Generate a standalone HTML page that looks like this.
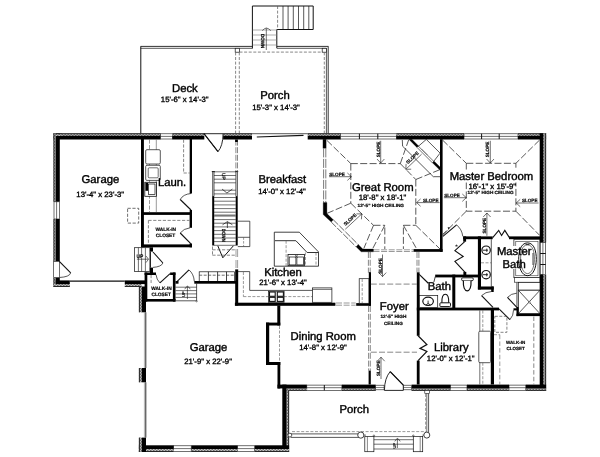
<!DOCTYPE html>
<html><head><meta charset="utf-8"><title>Floor Plan</title>
<style>
html,body{margin:0;padding:0;background:#fff;}
body{width:600px;height:457px;overflow:hidden;font-family:"Liberation Sans",sans-serif;}
svg{display:block;will-change:transform;opacity:0.999;text-rendering:geometricPrecision;}
svg text{font-family:"Liberation Sans",sans-serif;fill:#000;}
</style></head><body>
<svg width="600" height="457" viewBox="0 0 600 457">
<defs>
<pattern id="hz" width="1.5" height="1.5" patternUnits="userSpaceOnUse">
<rect width="1.5" height="1.5" fill="#f4f4f4"/><rect width="0.75" height="0.75" fill="#3a3a3a"/><rect x="0.75" y="0.75" width="0.75" height="0.75" fill="#3a3a3a"/>
</pattern>
</defs>
<rect width="600" height="457" fill="#fff"/>
<line x1="140.6" y1="46.4" x2="252.6" y2="46.4" stroke="#111" stroke-width="0.85"/>
<line x1="140.6" y1="48.3" x2="252.6" y2="48.3" stroke="#111" stroke-width="0.7"/>
<line x1="140.8" y1="46.4" x2="140.8" y2="134.0" stroke="#111" stroke-width="1.0"/>
<line x1="277.0" y1="46.4" x2="328.4" y2="46.4" stroke="#111" stroke-width="0.85"/>
<line x1="277.0" y1="48.3" x2="326.4" y2="48.3" stroke="#111" stroke-width="0.7"/>
<line x1="328.2" y1="46.4" x2="328.2" y2="134.0" stroke="#111" stroke-width="0.85"/>
<line x1="326.4" y1="48.3" x2="326.4" y2="134.0" stroke="#111" stroke-width="0.7"/>
<rect x="235.2" y="48.3" width="4.3" height="3.9" fill="#fff" stroke="#111" stroke-width="0.7"/>
<rect x="322.2" y="48.3" width="4.2" height="3.9" fill="#fff" stroke="#111" stroke-width="0.7"/>
<line x1="235.6" y1="52.4" x2="235.6" y2="134.0" stroke="#555" stroke-width="0.7" stroke-dasharray="3 1.6"/>
<line x1="239.3" y1="52.4" x2="239.3" y2="134.0" stroke="#555" stroke-width="0.7" stroke-dasharray="3 1.6"/>
<line x1="239.5" y1="52.1" x2="322.0" y2="52.1" stroke="#555" stroke-width="0.7" stroke-dasharray="3 1.6"/>
<line x1="324.3" y1="52.4" x2="324.3" y2="134.0" stroke="#555" stroke-width="0.7" stroke-dasharray="3 1.6"/>
<path d="M252.4 48.3 L252.4 6.0 L313.2 6.0 L313.2 29.5 L276.8 29.5 L276.8 48.3" fill="none" stroke="#111" stroke-width="1.0" />
<line x1="277.6" y1="6.0" x2="277.6" y2="29.5" stroke="#555" stroke-width="0.7" stroke-dasharray="3 1.6"/>
<line x1="283.0" y1="6.0" x2="283.0" y2="29.5" stroke="#111" stroke-width="0.7"/>
<line x1="288.1" y1="6.0" x2="288.1" y2="29.5" stroke="#111" stroke-width="0.7"/>
<line x1="293.3" y1="6.0" x2="293.3" y2="29.5" stroke="#111" stroke-width="0.7"/>
<line x1="298.5" y1="6.0" x2="298.5" y2="29.5" stroke="#111" stroke-width="0.7"/>
<line x1="303.7" y1="6.0" x2="303.7" y2="29.5" stroke="#111" stroke-width="0.7"/>
<line x1="308.8" y1="6.0" x2="308.8" y2="29.5" stroke="#111" stroke-width="0.7"/>
<line x1="252.6" y1="30.0" x2="277.0" y2="30.0" stroke="#777" stroke-width="0.6"/>
<line x1="252.6" y1="35.0" x2="277.0" y2="35.0" stroke="#777" stroke-width="0.6"/>
<line x1="252.6" y1="40.0" x2="277.0" y2="40.0" stroke="#777" stroke-width="0.6"/>
<line x1="252.6" y1="45.0" x2="277.0" y2="45.0" stroke="#777" stroke-width="0.6"/>
<text x="261.2" y="41.2" font-size="4.8" font-weight="bold" text-anchor="middle" stroke="#111" stroke-width="0.2" textLength="14.3" lengthAdjust="spacingAndGlyphs" transform="rotate(90 261.2 41.2)">DOWN</text>
<path d="M266.3 50 L266.3 28.2 M262.3 30.6 Q264.6 28.2 266.3 28 Q268.4 28.2 270.8 30.6" fill="none" stroke="#111" stroke-width="0.6" />
<text x="184.9" y="91.6" font-size="11.3" text-anchor="middle" stroke="#000" stroke-width="0.4">Deck</text>
<text x="184.7" y="101.9" font-size="7.75" text-anchor="middle" stroke="#000" stroke-width="0.35">15'-6" x 14'-3"</text>
<text x="275.0" y="99.4" font-size="11.3" text-anchor="middle" stroke="#000" stroke-width="0.4">Porch</text>
<text x="276.0" y="109.5" font-size="7.75" text-anchor="middle" stroke="#000" stroke-width="0.35">15'-3" x 14'-3"</text>
<rect x="53.5" y="133.3" width="107.2" height="2.7" fill="url(#hz)"/>
<rect x="53.5" y="133.3" width="107.2" height="0.9" fill="#1a1a1a"/>
<rect x="53.5" y="135.8" width="107.2" height="3.7" fill="#000"/>
<rect x="160.7" y="133.8" width="11.6" height="5.2" fill="#fff" stroke="#111" stroke-width="0.6"/>
<line x1="160.7" y1="136.4" x2="172.3" y2="136.4" stroke="#111" stroke-width="0.6"/>
<rect x="172.3" y="133.3" width="32.0" height="2.7" fill="url(#hz)"/>
<rect x="172.3" y="133.3" width="32.0" height="0.9" fill="#1a1a1a"/>
<rect x="172.3" y="135.8" width="32.0" height="3.7" fill="#000"/>
<rect x="223.1" y="133.3" width="28.9" height="2.7" fill="url(#hz)"/>
<rect x="223.1" y="133.3" width="28.9" height="0.9" fill="#1a1a1a"/>
<rect x="223.1" y="135.8" width="28.9" height="3.7" fill="#000"/>
<rect x="307.7" y="133.3" width="32.9" height="2.7" fill="url(#hz)"/>
<rect x="307.7" y="133.3" width="32.9" height="0.9" fill="#1a1a1a"/>
<rect x="307.7" y="135.8" width="32.9" height="3.7" fill="#000"/>
<rect x="340.6" y="133.8" width="55.7" height="5.2" fill="#fff" stroke="#111" stroke-width="0.6"/>
<line x1="340.6" y1="136.4" x2="396.3" y2="136.4" stroke="#111" stroke-width="0.6"/>
<line x1="359.4" y1="133.7" x2="359.4" y2="139.1" stroke="#111" stroke-width="1.0"/>
<line x1="377.8" y1="133.7" x2="377.8" y2="139.1" stroke="#111" stroke-width="1.0"/>
<rect x="396.3" y="133.3" width="67.7" height="2.7" fill="url(#hz)"/>
<rect x="396.3" y="133.3" width="67.7" height="0.9" fill="#1a1a1a"/>
<rect x="396.3" y="135.8" width="67.7" height="3.7" fill="#000"/>
<rect x="464.0" y="133.8" width="54.0" height="5.2" fill="#fff" stroke="#111" stroke-width="0.6"/>
<line x1="464.0" y1="136.4" x2="518.0" y2="136.4" stroke="#111" stroke-width="0.6"/>
<line x1="481.6" y1="133.7" x2="481.6" y2="139.1" stroke="#111" stroke-width="1.0"/>
<line x1="499.2" y1="133.7" x2="499.2" y2="139.1" stroke="#111" stroke-width="1.0"/>
<rect x="518.0" y="133.3" width="28.1" height="2.7" fill="url(#hz)"/>
<rect x="518.0" y="133.3" width="28.1" height="0.9" fill="#1a1a1a"/>
<rect x="518.0" y="135.8" width="28.1" height="3.7" fill="#000"/>
<line x1="252.0" y1="133.7" x2="307.7" y2="133.7" stroke="#111" stroke-width="0.7"/>
<line x1="256.8" y1="137.0" x2="303.5" y2="135.4" stroke="#111" stroke-width="1.2"/>
<rect x="543.0" y="133.3" width="3.1" height="109.3" fill="url(#hz)"/>
<rect x="545.2" y="133.3" width="0.9" height="109.3" fill="#1a1a1a"/>
<rect x="539.7" y="133.3" width="3.6" height="109.3" fill="#000"/>
<rect x="540.2" y="242.5" width="5.4" height="32.0" fill="#fff" stroke="#111" stroke-width="0.6"/>
<line x1="542.9" y1="242.5" x2="542.9" y2="274.5" stroke="#111" stroke-width="0.6"/>
<line x1="540.1" y1="253.5" x2="545.7" y2="253.5" stroke="#111" stroke-width="1.0"/>
<line x1="540.1" y1="264.5" x2="545.7" y2="264.5" stroke="#111" stroke-width="1.0"/>
<rect x="543.0" y="274.5" width="3.1" height="116.3" fill="url(#hz)"/>
<rect x="545.2" y="274.5" width="0.9" height="116.3" fill="#1a1a1a"/>
<rect x="539.7" y="274.5" width="3.6" height="116.3" fill="#000"/>
<rect x="525.8" y="388.0" width="20.3" height="2.8" fill="url(#hz)"/>
<rect x="525.8" y="389.9" width="20.3" height="0.9" fill="#1a1a1a"/>
<rect x="525.8" y="384.6" width="20.3" height="3.8" fill="#000"/>
<rect x="509.0" y="385.1" width="16.8" height="5.2" fill="#fff" stroke="#111" stroke-width="0.6"/>
<line x1="509.0" y1="387.7" x2="525.8" y2="387.7" stroke="#111" stroke-width="0.6"/>
<rect x="467.0" y="388.0" width="42.0" height="2.8" fill="url(#hz)"/>
<rect x="467.0" y="389.9" width="42.0" height="0.9" fill="#1a1a1a"/>
<rect x="467.0" y="384.6" width="42.0" height="3.8" fill="#000"/>
<rect x="450.4" y="385.1" width="16.6" height="5.2" fill="#fff" stroke="#111" stroke-width="0.6"/>
<line x1="450.4" y1="387.7" x2="467.0" y2="387.7" stroke="#111" stroke-width="0.6"/>
<rect x="411.6" y="388.0" width="38.8" height="2.8" fill="url(#hz)"/>
<rect x="411.6" y="389.9" width="38.8" height="0.9" fill="#1a1a1a"/>
<rect x="411.6" y="384.6" width="38.8" height="3.8" fill="#000"/>
<rect x="341.9" y="388.0" width="33.8" height="2.8" fill="url(#hz)"/>
<rect x="341.9" y="389.9" width="33.8" height="0.9" fill="#1a1a1a"/>
<rect x="341.9" y="384.6" width="33.8" height="3.8" fill="#000"/>
<rect x="306.8" y="385.1" width="35.1" height="5.2" fill="#fff" stroke="#111" stroke-width="0.6"/>
<line x1="306.8" y1="387.7" x2="341.9" y2="387.7" stroke="#111" stroke-width="0.6"/>
<line x1="324.3" y1="385.0" x2="324.3" y2="390.4" stroke="#111" stroke-width="1.0"/>
<rect x="286.4" y="388.0" width="20.4" height="2.8" fill="url(#hz)"/>
<rect x="286.4" y="389.9" width="20.4" height="0.9" fill="#1a1a1a"/>
<rect x="277.5" y="384.6" width="29.3" height="3.8" fill="#000"/>
<rect x="375.7" y="385.2" width="8.4" height="4.6" fill="#fff" stroke="#111" stroke-width="0.6"/>
<line x1="375.7" y1="387.5" x2="384.1" y2="387.5" stroke="#111" stroke-width="0.5"/>
<rect x="403.2" y="385.2" width="8.4" height="4.6" fill="#fff" stroke="#111" stroke-width="0.6"/>
<line x1="403.2" y1="387.5" x2="411.6" y2="387.5" stroke="#111" stroke-width="0.5"/>
<path d="M384.4 390.4 Q384.6 378 390.2 371.6 L403.3 385.1 L403.3 390.4 Z" fill="#fff" stroke="#111" stroke-width="0.9" />
<line x1="390.2" y1="371.6" x2="403.3" y2="385.1" stroke="#111" stroke-width="1.3"/>
<rect x="286.2" y="390.4" width="2.9" height="61.6" fill="url(#hz)"/>
<rect x="288.2" y="390.4" width="0.9" height="61.6" fill="#1a1a1a"/>
<rect x="282.3" y="384.6" width="4.2" height="64.4" fill="#000"/>
<rect x="254.7" y="448.8" width="34.4" height="3.2" fill="url(#hz)"/>
<rect x="254.7" y="451.1" width="34.4" height="0.9" fill="#1a1a1a"/>
<rect x="254.7" y="445.3" width="34.4" height="3.7" fill="#000"/>
<rect x="237.5" y="445.8" width="17.2" height="5.7" fill="#fff" stroke="#111" stroke-width="0.6"/>
<line x1="237.5" y1="448.6" x2="254.7" y2="448.6" stroke="#111" stroke-width="0.6"/>
<rect x="191.2" y="448.8" width="46.3" height="3.2" fill="url(#hz)"/>
<rect x="191.2" y="451.1" width="46.3" height="0.9" fill="#1a1a1a"/>
<rect x="191.2" y="445.3" width="46.3" height="3.7" fill="#000"/>
<rect x="173.6" y="445.8" width="17.6" height="5.7" fill="#fff" stroke="#111" stroke-width="0.6"/>
<line x1="173.6" y1="448.6" x2="191.2" y2="448.6" stroke="#111" stroke-width="0.6"/>
<rect x="138.9" y="448.8" width="34.7" height="3.2" fill="url(#hz)"/>
<rect x="138.9" y="451.1" width="34.7" height="0.9" fill="#1a1a1a"/>
<rect x="138.9" y="445.3" width="34.7" height="3.7" fill="#000"/>
<rect x="138.9" y="286.5" width="3.1" height="25.8" fill="url(#hz)"/>
<rect x="138.9" y="286.5" width="0.9" height="25.8" fill="#1a1a1a"/>
<rect x="141.8" y="286.5" width="4.2" height="25.8" fill="#000"/>
<rect x="138.9" y="368.0" width="3.1" height="14.3" fill="url(#hz)"/>
<rect x="138.9" y="368.0" width="0.9" height="14.3" fill="#1a1a1a"/>
<rect x="141.8" y="368.0" width="4.2" height="14.3" fill="#000"/>
<rect x="138.9" y="437.6" width="3.1" height="14.4" fill="url(#hz)"/>
<rect x="138.9" y="437.6" width="0.9" height="14.4" fill="#1a1a1a"/>
<rect x="141.8" y="437.6" width="4.2" height="14.4" fill="#000"/>
<line x1="144.4" y1="312.3" x2="144.4" y2="368.0" stroke="#666" stroke-width="0.5"/>
<line x1="145.8" y1="312.3" x2="145.8" y2="368.0" stroke="#111" stroke-width="0.9"/>
<line x1="144.4" y1="382.3" x2="144.4" y2="437.6" stroke="#666" stroke-width="0.5"/>
<line x1="145.8" y1="382.3" x2="145.8" y2="437.6" stroke="#111" stroke-width="0.9"/>
<rect x="53.5" y="133.3" width="2.6" height="68.5" fill="url(#hz)"/>
<rect x="53.5" y="133.3" width="0.9" height="68.5" fill="#1a1a1a"/>
<rect x="55.8" y="133.3" width="4.0" height="68.5" fill="#000"/>
<rect x="54.0" y="201.8" width="5.3" height="17.2" fill="#fff" stroke="#111" stroke-width="0.6"/>
<line x1="56.6" y1="201.8" x2="56.6" y2="219.0" stroke="#111" stroke-width="0.6"/>
<rect x="53.5" y="219.0" width="2.6" height="42.4" fill="url(#hz)"/>
<rect x="53.5" y="219.0" width="0.9" height="42.4" fill="#1a1a1a"/>
<rect x="55.8" y="219.0" width="4.0" height="42.4" fill="#000"/>
<rect x="53.5" y="277.5" width="2.6" height="9.4" fill="url(#hz)"/>
<rect x="53.5" y="277.5" width="0.9" height="9.4" fill="#1a1a1a"/>
<rect x="55.8" y="277.5" width="4.0" height="9.4" fill="#000"/>
<rect x="55.8" y="133.3" width="6.2" height="2.7" fill="url(#hz)"/>
<rect x="55.8" y="133.3" width="6.2" height="0.9" fill="#1a1a1a"/>
<rect x="53.5" y="283.8" width="16.3" height="3.1" fill="url(#hz)"/>
<rect x="53.5" y="286.0" width="16.3" height="0.9" fill="#1a1a1a"/>
<rect x="55.8" y="280.4" width="14.0" height="3.7" fill="#000"/>
<rect x="124.8" y="283.8" width="16.7" height="3.1" fill="url(#hz)"/>
<rect x="124.8" y="286.0" width="16.7" height="0.9" fill="#1a1a1a"/>
<rect x="124.8" y="280.4" width="20.2" height="3.7" fill="#000"/>
<line x1="69.8" y1="281.1" x2="124.8" y2="281.1" stroke="#111" stroke-width="1.2"/>
<rect x="53.7" y="261.4" width="5.9" height="16.1" fill="#fff" stroke="#111" stroke-width="0.6"/>
<path d="M59.3 261.4 L70.7 272.9" fill="none" stroke="#111" stroke-width="1.1" />
<path d="M70.7 272.9 Q69.5 277 59.3 277.5" fill="none" stroke="#111" stroke-width="0.7" />
<rect x="141.0" y="139.0" width="2.9" height="108.3" fill="#000"/>
<rect x="141.0" y="212.2" width="51.0" height="2.7" fill="#000"/>
<rect x="189.7" y="139.0" width="2.3" height="54.5" fill="#000"/>
<rect x="189.7" y="210.0" width="2.3" height="4.9" fill="#000"/>
<path d="M191 210 L180.2 199.5" fill="none" stroke="#111" stroke-width="1.1" />
<path d="M180.2 199.5 Q183 194.3 191 193.5" fill="none" stroke="#111" stroke-width="0.7" />
<rect x="141.0" y="244.4" width="51.0" height="2.9" fill="#000"/>
<rect x="189.6" y="214.9" width="2.4" height="12.9" fill="#000"/>
<rect x="189.6" y="243.5" width="2.4" height="3.8" fill="#000"/>
<path d="M191 243.8 L180.2 233" fill="none" stroke="#111" stroke-width="1.1" />
<path d="M180.2 233 Q183.5 228.6 190 227.8" fill="none" stroke="#111" stroke-width="0.7" />
<line x1="148.4" y1="220.4" x2="189.5" y2="220.4" stroke="#555" stroke-width="0.7" stroke-dasharray="3.2 1.6"/>
<line x1="148.4" y1="220.4" x2="148.4" y2="244.4" stroke="#555" stroke-width="0.7" stroke-dasharray="3.2 1.6"/>
<text x="165.8" y="231.3" font-size="4.8" font-weight="bold" text-anchor="middle" stroke="#111" stroke-width="0.2">WALK-IN</text>
<text x="165.5" y="237.2" font-size="4.8" font-weight="bold" text-anchor="middle" stroke="#111" stroke-width="0.2">CLOSET</text>
<rect x="134.6" y="247.7" width="15.3" height="23.7" fill="#fff" stroke="#111" stroke-width="0.7"/>
<line x1="138.4" y1="247.7" x2="138.4" y2="271.4" stroke="#111" stroke-width="0.6"/>
<line x1="141.6" y1="247.7" x2="141.6" y2="271.4" stroke="#111" stroke-width="0.6"/>
<line x1="145.4" y1="247.7" x2="145.4" y2="271.4" stroke="#111" stroke-width="0.6"/>
<text x="136.4" y="258.0" font-size="5.0" text-anchor="start" stroke="#000" stroke-width="0.2">UP</text>
<path d="M136.9 259.2 L148.3 259.2 M146 256 L148.5 259.2 L146 262.6" fill="none" stroke="#111" stroke-width="0.6" />
<rect x="149.9" y="247.3" width="3.1" height="4.3" fill="#000"/>
<rect x="149.9" y="267.6" width="3.1" height="5.6" fill="#000"/>
<line x1="150.5" y1="251.6" x2="150.5" y2="267.6" stroke="#111" stroke-width="0.9"/>
<path d="M153 252 L162.9 263" fill="none" stroke="#111" stroke-width="1.1" />
<path d="M162.9 263 Q161.5 266.8 153 267.4" fill="none" stroke="#111" stroke-width="0.7" />
<rect x="144.6" y="272.5" width="2.7" height="29.1" fill="#000"/>
<rect x="144.6" y="272.5" width="11.4" height="2.5" fill="#000"/>
<rect x="170.1" y="272.5" width="5.4" height="2.5" fill="#000"/>
<rect x="172.9" y="272.5" width="2.6" height="29.1" fill="#000"/>
<rect x="144.6" y="299.0" width="30.9" height="2.6" fill="#000"/>
<path d="M170.1 273.6 L159.9 282.9" fill="none" stroke="#111" stroke-width="1.1" />
<path d="M159.9 282.9 Q156.5 279.5 156 274.6" fill="none" stroke="#111" stroke-width="0.7" />
<line x1="151.1" y1="275.0" x2="151.1" y2="284.5" stroke="#555" stroke-width="0.7" stroke-dasharray="3.2 1.6"/>
<text x="161.4" y="289.8" font-size="4.8" font-weight="bold" text-anchor="middle" stroke="#111" stroke-width="0.2">WALK-IN</text>
<text x="161.2" y="295.9" font-size="4.8" font-weight="bold" text-anchor="middle" stroke="#111" stroke-width="0.2">CLOSET</text>
<path d="M177.2 281.4 L189 269.9" fill="none" stroke="#111" stroke-width="1.1" />
<path d="M189 269.9 Q193.8 274 194.3 281.4" fill="none" stroke="#111" stroke-width="0.7" />
<rect x="175.5" y="281.0" width="3.0" height="2.7" fill="#000"/>
<rect x="199.2" y="271.8" width="35.3" height="9.6" fill="#fff" stroke="#111" stroke-width="0.7"/>
<line x1="208.4" y1="271.8" x2="208.4" y2="281.4" stroke="#111" stroke-width="0.8"/>
<line x1="217.6" y1="271.8" x2="217.6" y2="281.4" stroke="#111" stroke-width="0.8"/>
<line x1="226.5" y1="271.8" x2="226.5" y2="281.4" stroke="#111" stroke-width="0.8"/>
<line x1="199.2" y1="275.2" x2="234.5" y2="275.2" stroke="#333" stroke-width="0.7" stroke-dasharray="3 1.5"/>
<rect x="194.3" y="281.0" width="41.7" height="2.7" fill="#000"/>
<line x1="175.5" y1="287.2" x2="196.6" y2="287.2" stroke="#111" stroke-width="0.6"/>
<line x1="175.5" y1="290.6" x2="196.6" y2="290.6" stroke="#111" stroke-width="0.6"/>
<line x1="175.5" y1="293.9" x2="196.6" y2="293.9" stroke="#111" stroke-width="0.6"/>
<line x1="175.5" y1="297.4" x2="196.6" y2="297.4" stroke="#111" stroke-width="0.6"/>
<line x1="196.6" y1="283.7" x2="196.6" y2="301.0" stroke="#111" stroke-width="0.7"/>
<line x1="175.5" y1="300.8" x2="196.6" y2="300.8" stroke="#111" stroke-width="0.7"/>
<circle cx="196.6" cy="301.2" r="0.7" fill="#fff" stroke="#111" stroke-width="0.5"/>
<text x="184.6" y="297.0" font-size="4.2" text-anchor="start" stroke="#000" stroke-width="0.15" transform="rotate(-90 184.6 297.0)">UP</text>
<path d="M187.4 299 L187.4 286.3 M184.8 289.2 Q186.2 286.4 187.4 286.2 Q188.8 286.4 190.2 289.2" fill="none" stroke="#111" stroke-width="0.6" />
<rect x="235.2" y="269.4" width="3.0" height="36.2" fill="#000"/>
<rect x="234.9" y="302.7" width="100.5" height="3.1" fill="#000"/>
<line x1="212.7" y1="171.6" x2="212.7" y2="196.1" stroke="#111" stroke-width="0.7"/>
<line x1="214.0" y1="171.6" x2="214.0" y2="196.1" stroke="#111" stroke-width="0.7"/>
<line x1="235.9" y1="171.6" x2="235.9" y2="196.1" stroke="#111" stroke-width="0.7"/>
<line x1="237.4" y1="171.6" x2="237.4" y2="196.1" stroke="#111" stroke-width="0.7"/>
<line x1="211.8" y1="171.6" x2="214.8" y2="171.6" stroke="#111" stroke-width="1.0"/>
<line x1="235.2" y1="171.6" x2="238.2" y2="171.6" stroke="#111" stroke-width="1.0"/>
<rect x="212.2" y="196.1" width="2.0" height="49.4" fill="#000"/>
<rect x="235.7" y="196.1" width="2.0" height="49.4" fill="#000"/>
<line x1="214.0" y1="171.8" x2="235.8" y2="171.8" stroke="#111" stroke-width="0.6"/>
<line x1="214.0" y1="175.5" x2="235.8" y2="175.5" stroke="#111" stroke-width="0.6"/>
<line x1="214.0" y1="179.2" x2="235.8" y2="179.2" stroke="#111" stroke-width="0.6"/>
<line x1="214.0" y1="182.8" x2="235.8" y2="182.8" stroke="#111" stroke-width="0.6"/>
<line x1="214.0" y1="190.2" x2="235.8" y2="190.2" stroke="#111" stroke-width="0.6"/>
<line x1="214.0" y1="193.9" x2="235.8" y2="193.9" stroke="#111" stroke-width="0.6"/>
<line x1="214.0" y1="197.5" x2="235.8" y2="197.5" stroke="#111" stroke-width="0.6"/>
<line x1="214.0" y1="201.2" x2="235.8" y2="201.2" stroke="#111" stroke-width="0.6"/>
<line x1="214.0" y1="204.9" x2="235.8" y2="204.9" stroke="#111" stroke-width="0.6"/>
<line x1="214.0" y1="208.6" x2="235.8" y2="208.6" stroke="#111" stroke-width="0.6"/>
<line x1="214.0" y1="212.2" x2="235.8" y2="212.2" stroke="#111" stroke-width="0.6"/>
<line x1="214.0" y1="215.9" x2="235.8" y2="215.9" stroke="#111" stroke-width="0.6"/>
<line x1="214.0" y1="219.6" x2="235.8" y2="219.6" stroke="#111" stroke-width="0.6"/>
<line x1="214.0" y1="223.2" x2="235.8" y2="223.2" stroke="#111" stroke-width="0.6"/>
<line x1="214.0" y1="226.9" x2="235.8" y2="226.9" stroke="#111" stroke-width="0.6"/>
<line x1="214.0" y1="230.6" x2="235.8" y2="230.6" stroke="#111" stroke-width="0.6"/>
<line x1="214.0" y1="234.3" x2="235.8" y2="234.3" stroke="#111" stroke-width="0.6"/>
<line x1="214.0" y1="238.0" x2="235.8" y2="238.0" stroke="#111" stroke-width="0.6"/>
<line x1="214.0" y1="241.6" x2="235.8" y2="241.6" stroke="#111" stroke-width="0.6"/>
<line x1="214.0" y1="245.3" x2="235.8" y2="245.3" stroke="#111" stroke-width="0.6"/>
<line x1="214.0" y1="215.4" x2="235.8" y2="215.4" stroke="#777" stroke-width="1.8"/>
<path d="M217.8 245.8 L222.8 257.8 L233.4 245.8" fill="none" stroke="#111" stroke-width="1.0" />
<line x1="212.4" y1="249.8" x2="236.0" y2="249.8" stroke="#555" stroke-width="0.7" stroke-dasharray="3.2 1.6"/>
<line x1="212.4" y1="255.2" x2="236.0" y2="255.2" stroke="#555" stroke-width="0.7" stroke-dasharray="3.2 1.6"/>
<line x1="212.5" y1="246.5" x2="212.5" y2="255.2" stroke="#555" stroke-width="0.7" stroke-dasharray="3.2 1.6"/>
<text x="221.6" y="176.3" font-size="4.8" text-anchor="middle" stroke="#000" stroke-width="0.2" transform="rotate(90 221.6 176.3)">UP</text>
<path d="M222.1 189.1 L226.9 193 L232.4 189.1" fill="none" stroke="#111" stroke-width="0.7" />
<text x="222.0" y="235.2" font-size="4.8" font-weight="bold" text-anchor="middle" stroke="#111" stroke-width="0.2" textLength="13" lengthAdjust="spacingAndGlyphs" transform="rotate(90 222.0 235.2)">DOWN</text>
<path d="M227.4 228 L227.4 221.8 M222.5 224.8 L227.4 221.6 L232.4 224.8" fill="none" stroke="#111" stroke-width="0.7" />
<line x1="235.9" y1="139.6" x2="235.9" y2="171.6" stroke="#555" stroke-width="0.7" stroke-dasharray="6 1.6"/>
<line x1="237.5" y1="139.6" x2="237.5" y2="171.6" stroke="#555" stroke-width="0.7" stroke-dasharray="6 1.6"/>
<line x1="236.0" y1="249.0" x2="236.0" y2="269.4" stroke="#777" stroke-width="0.7" stroke-dasharray="8 3"/>
<line x1="237.6" y1="249.0" x2="237.6" y2="269.4" stroke="#777" stroke-width="0.7" stroke-dasharray="8 3"/>
<path d="M237.8 221.2 L249.8 221.2 L249.8 246.6 L237.8 246.6" fill="none" stroke="#111" stroke-width="0.7" />
<line x1="237.8" y1="237.3" x2="249.8" y2="237.3" stroke="#111" stroke-width="0.7"/>
<line x1="243.6" y1="237.3" x2="243.6" y2="246.6" stroke="#555" stroke-width="0.6" stroke-dasharray="2.5 1.3"/>
<line x1="149.5" y1="139.6" x2="149.5" y2="212.2" stroke="#555" stroke-width="0.6" stroke-dasharray="4 1.5"/>
<line x1="156.3" y1="139.6" x2="156.3" y2="212.2" stroke="#555" stroke-width="0.6"/>
<rect x="145.7" y="149.7" width="14.6" height="14.3" rx="1.2" fill="#fff" stroke="#111" stroke-width="0.7"/>
<rect x="145.7" y="165.3" width="14.6" height="15.1" rx="1.2" fill="#fff" stroke="#111" stroke-width="0.7"/>
<rect x="148.2" y="167.8" width="10" height="10" rx="1" fill="#fff" stroke="#111" stroke-width="0.6"/>
<rect x="144.8" y="182.3" width="11.6" height="14.0" fill="#fff" stroke="#111" stroke-width="0.8"/>
<rect x="148.4" y="184.0" width="6.6" height="10.6" fill="#fff" stroke="#111" stroke-width="0.7"/>
<rect x="145.4" y="182.8" width="2.6" height="8.0" fill="#000"/>
<line x1="183.6" y1="139.6" x2="183.6" y2="173.0" stroke="#555" stroke-width="0.7" stroke-dasharray="3.2 1.6"/>
<line x1="183.6" y1="173.0" x2="189.7" y2="173.0" stroke="#555" stroke-width="0.7" stroke-dasharray="3.2 1.6"/>
<text x="172.1" y="185.5" font-size="11.3" text-anchor="middle" stroke="#000" stroke-width="0.4">Laun.</text>
<rect x="127.6" y="208.3" width="11.1" height="14.8" fill="none" stroke="#333" stroke-width="0.7" stroke-dasharray="3.2 1.6"/>
<path d="M204 133.7 L218 151.6 Q222.9 146 223.1 133.7 Z" fill="#fff" stroke="#111" stroke-width="0.9" />
<line x1="204.0" y1="133.7" x2="218.0" y2="151.6" stroke="#111" stroke-width="1.1"/>
<rect x="235.1" y="139.5" width="2.7" height="2.5" fill="#000"/>
<path d="M274.3 232.2 L299.3 232.2 L318.5 251.9 L318.5 266.2 L274.3 266.2 Z" fill="none" stroke="#111" stroke-width="0.8" />
<path d="M275.0 240.7 L295.9 240.7 L307.1 252.5 L318.5 252.5" fill="none" stroke="#333" stroke-width="1.0" />
<line x1="286.1" y1="240.7" x2="286.1" y2="266.2" stroke="#555" stroke-width="0.6" stroke-dasharray="3 1.5"/>
<line x1="305.4" y1="252.5" x2="305.4" y2="266.2" stroke="#555" stroke-width="0.6" stroke-dasharray="3 1.5"/>
<line x1="316.0" y1="252.5" x2="316.0" y2="266.2" stroke="#555" stroke-width="0.6" stroke-dasharray="3 1.5"/>
<rect x="288.0" y="254.4" width="16.4" height="11.3" fill="#fff" stroke="#111" stroke-width="0.8"/>
<rect x="289.2" y="257.0" width="6.7" height="7.9" fill="#fff" stroke="#111" stroke-width="0.7"/>
<rect x="296.9" y="257.0" width="6.5" height="7.9" fill="#fff" stroke="#111" stroke-width="0.7"/>
<path d="M294.9 254.8 L297.9 257.6 M297.9 254.8 L294.9 257.6" fill="none" stroke="#111" stroke-width="0.6" />
<path d="M237.9 271.6 L249.7 271.6 L249.7 290.4 L312.6 290.4" fill="none" stroke="#111" stroke-width="0.7" />
<line x1="243.4" y1="272.0" x2="243.4" y2="296.6" stroke="#555" stroke-width="0.6" stroke-dasharray="3 1.5"/>
<line x1="243.4" y1="296.6" x2="312.6" y2="296.6" stroke="#555" stroke-width="0.6" stroke-dasharray="3 1.5"/>
<rect x="268.4" y="291.2" width="15.7" height="11.1" fill="#fff" stroke="#111" stroke-width="0.7"/>
<rect x="269.5" y="292" width="5.7" height="4.3" fill="#fff" stroke="#111" stroke-width="1.1"/>
<rect x="269.5" y="297.3" width="5.7" height="4.1" fill="#fff" stroke="#111" stroke-width="1.1"/>
<rect x="277.3" y="292" width="6.1" height="4.3" fill="#fff" stroke="#111" stroke-width="1.1"/>
<rect x="277.3" y="297.3" width="6.1" height="4.1" fill="#fff" stroke="#111" stroke-width="1.1"/>
<rect x="312.6" y="287.9" width="19.3" height="14.4" fill="#fff" stroke="#111" stroke-width="0.7"/>
<line x1="312.6" y1="289.4" x2="331.9" y2="289.4" stroke="#111" stroke-width="0.6"/>
<line x1="336.0" y1="303.0" x2="355.7" y2="303.0" stroke="#555" stroke-width="0.6" stroke-dasharray="6 1.6"/>
<line x1="336.0" y1="305.2" x2="355.7" y2="305.2" stroke="#555" stroke-width="0.6" stroke-dasharray="6 1.6"/>
<rect x="356.2" y="303.1" width="14.6" height="2.7" fill="#000"/>
<rect x="359.2" y="278.7" width="9.8" height="24.6" fill="#fff" stroke="#111" stroke-width="0.7"/>
<line x1="362.2" y1="279.0" x2="362.2" y2="303.0" stroke="#555" stroke-width="0.6" stroke-dasharray="3 1.5"/>
<text x="282.3" y="183.4" font-size="11.3" text-anchor="middle" stroke="#000" stroke-width="0.4">Breakfast</text>
<text x="282.0" y="193.7" font-size="7.75" text-anchor="middle" stroke="#000" stroke-width="0.35">14'-0" x 12'-4"</text>
<text x="283.0" y="276.4" font-size="11.3" text-anchor="middle" stroke="#000" stroke-width="0.4">Kitchen</text>
<text x="283.0" y="284.9" font-size="7.75" text-anchor="middle" stroke="#000" stroke-width="0.35">21'-6" x 13'-4"</text>
<rect x="277.3" y="305.5" width="3.0" height="20.0" fill="#000"/>
<rect x="266.0" y="322.6" width="14.3" height="2.9" fill="#000"/>
<rect x="266.0" y="322.6" width="3.2" height="42.4" fill="#000"/>
<rect x="266.0" y="362.0" width="14.3" height="3.0" fill="#000"/>
<rect x="277.5" y="362.0" width="2.8" height="26.5" fill="#000"/>
<line x1="279.5" y1="326.0" x2="279.5" y2="362.0" stroke="#555" stroke-width="0.6" stroke-dasharray="3 1.5"/>
<text x="323.2" y="339.9" font-size="11.3" text-anchor="middle" stroke="#000" stroke-width="0.4">Dining Room</text>
<text x="323.0" y="350.0" font-size="7.75" text-anchor="middle" stroke="#000" stroke-width="0.35">14'-8" x 12'-9"</text>
<rect x="368.8" y="272.1" width="2.2" height="33.7" fill="#000"/>
<line x1="368.4" y1="252.0" x2="368.4" y2="272.8" stroke="#555" stroke-width="0.7" stroke-dasharray="6 1.8"/>
<line x1="370.2" y1="252.0" x2="370.2" y2="272.8" stroke="#555" stroke-width="0.7" stroke-dasharray="6 1.8"/>
<line x1="368.6" y1="306.0" x2="368.6" y2="370.6" stroke="#555" stroke-width="0.7" stroke-dasharray="6 1.8"/>
<line x1="370.3" y1="306.0" x2="370.3" y2="370.6" stroke="#555" stroke-width="0.7" stroke-dasharray="6 1.8"/>
<rect x="368.6" y="370.6" width="2.2" height="13.9" fill="#000"/>
<line x1="417.0" y1="252.0" x2="417.0" y2="272.3" stroke="#555" stroke-width="0.7" stroke-dasharray="6 1.8"/>
<line x1="418.9" y1="252.0" x2="418.9" y2="272.3" stroke="#555" stroke-width="0.7" stroke-dasharray="6 1.8"/>
<rect x="416.8" y="272.3" width="2.8" height="63.5" fill="#000"/>
<line x1="370.8" y1="284.1" x2="416.8" y2="284.1" stroke="#555" stroke-width="0.7" stroke-dasharray="6 2.2"/>
<line x1="370.8" y1="352.2" x2="417.0" y2="352.2" stroke="#555" stroke-width="0.7" stroke-dasharray="6 2.2"/>
<path d="M418.1 335.8 L426.9 344.5 L420.0 348.4 L426.9 351.4 L418.1 360.6" fill="none" stroke="#111" stroke-width="1.2" />
<rect x="416.8" y="360.6" width="2.8" height="23.9" fill="#000"/>
<text x="394.3" y="310.0" font-size="11.3" text-anchor="middle" stroke="#000" stroke-width="0.4">Foyer</text>
<text x="393.4" y="318.3" font-size="4.6" font-weight="bold" text-anchor="middle" stroke="#111" stroke-width="0.2" textLength="26" lengthAdjust="spacingAndGlyphs">12'-5" HIGH</text>
<text x="393.4" y="324.6" font-size="4.6" font-weight="bold" text-anchor="middle" stroke="#111" stroke-width="0.2" textLength="18.9" lengthAdjust="spacingAndGlyphs">CEILING</text>
<text x="451.3" y="351.0" font-size="11.3" text-anchor="middle" stroke="#000" stroke-width="0.4">Library</text>
<text x="450.7" y="361.2" font-size="7.75" text-anchor="middle" stroke="#000" stroke-width="0.35">12'-0" x 12'-1"</text>
<rect x="490.8" y="308.0" width="3.2" height="76.5" fill="#000"/>
<rect x="478.8" y="331.2" width="11.8" height="31.5" rx="1.2" fill="#fff" stroke="#111" stroke-width="0.7"/>
<line x1="479.8" y1="362.7" x2="479.8" y2="384.4" stroke="#111" stroke-width="0.6"/>
<line x1="482.8" y1="362.7" x2="482.8" y2="384.4" stroke="#555" stroke-width="0.6" stroke-dasharray="3 1.5"/>
<line x1="479.8" y1="310.5" x2="479.8" y2="331.2" stroke="#111" stroke-width="0.6"/>
<line x1="482.8" y1="310.5" x2="482.8" y2="331.2" stroke="#555" stroke-width="0.6" stroke-dasharray="3 1.5"/>
<rect x="416.8" y="307.6" width="82.2" height="2.8" fill="#000"/>
<rect x="435.2" y="274.6" width="45.8" height="2.8" fill="#000"/>
<rect x="452.3" y="274.6" width="3.0" height="34.4" fill="#000"/>
<line x1="419.2" y1="274.4" x2="428.3" y2="283.2" stroke="#111" stroke-width="1.2"/>
<line x1="435.3" y1="276.5" x2="433.9" y2="282.0" stroke="#111" stroke-width="0.8"/>
<text x="439.3" y="289.7" font-size="11.3" text-anchor="middle" stroke="#000" stroke-width="0.4">Bath</text>
<rect x="419.4" y="295.4" width="18.3" height="12.0" fill="#fff" stroke="#111" stroke-width="0.7"/>
<ellipse cx="428.1" cy="301.3" rx="5.3" ry="4.1" fill="#fff" stroke="#111" stroke-width="1.2"/>
<path d="M428.1 300.6 L428.1 303.2 M428.1 303.2 L426.2 304.8 M428.1 303.2 L430 304.8" fill="none" stroke="#111" stroke-width="0.8" />
<path d="M441.9 303 C441.6 297 443 294.3 445.3 294.3 C447.6 294.3 449 297 448.7 303" fill="#fff" stroke="#111" stroke-width="1.1" />
<rect x="439.9" y="302.8" width="10.6" height="3.8" rx="0.8" fill="#fff" stroke="#111" stroke-width="1.0"/>
<rect x="461.6" y="277.8" width="11.7" height="2.9" rx="1.2" fill="#fff" stroke="#111" stroke-width="0.9"/>
<path d="M463.4 280.8 C463 287 464.6 290.8 467.2 290.8 C469.8 290.8 471.4 287 471 280.8" fill="#fff" stroke="#111" stroke-width="1.2" />
<rect x="477.9" y="236.4" width="3.1" height="53.0" fill="#000"/>
<rect x="477.9" y="286.5" width="15.8" height="3.1" fill="#000"/>
<rect x="491.2" y="286.5" width="2.5" height="5.5" fill="#000"/>
<rect x="463.2" y="236.4" width="17.8" height="2.8" fill="#000"/>
<rect x="463.2" y="236.4" width="2.9" height="5.3" fill="#000"/>
<rect x="463.4" y="271.9" width="2.9" height="5.1" fill="#000"/>
<path d="M464.7 241.7 L454.9 250.6 L463.2 256.5 L454.9 261.4 L465.1 272.3" fill="none" stroke="#111" stroke-width="1.1" />
<text x="456.0" y="246.5" font-size="2.6" font-weight="bold" text-anchor="middle" stroke="#111" stroke-width="0.2" transform="rotate(40 456.0 246.5)">P</text>
<rect x="481.0" y="236.4" width="11.7" height="2.8" fill="#000"/>
<rect x="509.0" y="236.4" width="31.0" height="2.8" fill="#000"/>
<path d="M492.7 237.6 L498.7 230.4 L501.6 235.5 L504.8 230.4 L509.4 237.6" fill="none" stroke="#111" stroke-width="1.1" />
<line x1="491.3" y1="239.2" x2="491.3" y2="286.5" stroke="#111" stroke-width="0.7"/>
<circle cx="486.1" cy="250.2" r="4.2" fill="#fff" stroke="#111" stroke-width="1.2"/>
<path d="M483 250.2 L487.9 250.2 M486.8 248.6 L486.8 251.79999999999998" fill="none" stroke="#111" stroke-width="0.9" />
<circle cx="486.1" cy="274.7" r="4.2" fill="#fff" stroke="#111" stroke-width="1.2"/>
<path d="M483 274.7 L487.9 274.7 M486.8 273.09999999999997 L486.8 276.3" fill="none" stroke="#111" stroke-width="0.9" />
<line x1="481.0" y1="262.8" x2="491.3" y2="262.8" stroke="#555" stroke-width="0.6" stroke-dasharray="3 1.5"/>
<rect x="513.9" y="239.4" width="25.9" height="38.3" fill="#fff" stroke="#111" stroke-width="0.7"/>
<rect x="515.8" y="241.4" width="22.2" height="34.4" fill="#fff" stroke="#111" stroke-width="0.5"/>
<rect x="512.5" y="246" width="5" height="23" fill="#fff"/>
<path d="M527.5 242.9 C534.5 242.9 536.4 252 536.3 259.5 C536.2 268 533 275.7 527.5 275.7 C522 275.7 518.8 268 518.7 259.5 C518.6 252 520.5 242.9 527.5 242.9 Z" fill="none" stroke="#111" stroke-width="1.0" />
<path d="M527.5 244.8 C533 244.8 534.5 252.5 534.4 259.5 C534.3 267 531.6 273.6 527.5 273.6 C523.4 273.6 520.7 267 520.6 259.5 C520.5 252.5 522 244.8 527.5 244.8 Z" fill="none" stroke="#111" stroke-width="0.6" />
<path d="M525.6 244.6 L529.4 244.6 M533 253 L533 265" fill="none" stroke="#111" stroke-width="0.8" />
<rect x="514.4" y="277.7" width="25.4" height="4.5" fill="#fff" stroke="#111" stroke-width="0.6"/>
<line x1="516.9" y1="282.4" x2="516.9" y2="307.0" stroke="#111" stroke-width="0.7"/>
<rect x="518.3" y="282.4" width="21.7" height="7.8" fill="#fff" stroke="#111" stroke-width="0.7"/>
<rect x="518.3" y="290.2" width="21.7" height="23.5" fill="#fff" stroke="#111" stroke-width="0.8"/>
<line x1="518.3" y1="290.2" x2="540.0" y2="313.7" stroke="#111" stroke-width="0.7"/>
<line x1="540.0" y1="290.2" x2="518.3" y2="313.7" stroke="#111" stroke-width="0.7"/>
<circle cx="529.3" cy="302.2" r="0.9" fill="#fff" stroke="#111" stroke-width="0.5"/>
<rect x="516.5" y="313.7" width="23.5" height="2.4" fill="#000"/>
<rect x="516.5" y="307.0" width="2.0" height="9.1" fill="#000"/>
<rect x="513.5" y="308.3" width="4.8" height="2.1" fill="#000"/>
<path d="M493 307.3 L481.6 295.6" fill="none" stroke="#111" stroke-width="1.1" />
<path d="M481.6 295.6 Q485.5 291.8 491.2 291.6" fill="none" stroke="#111" stroke-width="0.7" />
<path d="M499 308.9 L509.9 319.7" fill="none" stroke="#111" stroke-width="1.1" />
<path d="M509.9 319.7 Q513.6 315.5 513.5 310.2" fill="none" stroke="#111" stroke-width="0.7" />
<path d="M517.1 307.7 L507.5 297.4" fill="none" stroke="#111" stroke-width="1.1" />
<path d="M507.5 297.4 Q511 293.5 516.7 293.2" fill="none" stroke="#111" stroke-width="0.7" />
<text x="514.2" y="255.2" font-size="11.3" text-anchor="middle" stroke="#000" stroke-width="0.4">Master</text>
<text x="514.1" y="268.2" font-size="11.3" text-anchor="middle" stroke="#000" stroke-width="0.4">Bath</text>
<line x1="499.8" y1="334.7" x2="499.8" y2="384.4" stroke="#555" stroke-width="0.6" stroke-dasharray="4.5 2.2"/>
<line x1="494.0" y1="334.7" x2="499.8" y2="334.7" stroke="#555" stroke-width="0.6" stroke-dasharray="3 1.5"/>
<line x1="533.8" y1="316.5" x2="533.8" y2="384.4" stroke="#555" stroke-width="0.7" stroke-dasharray="4.5 2.2"/>
<rect x="494.8" y="316.3" width="12.1" height="16" fill="none" stroke="#333" stroke-width="0.6" stroke-dasharray="3 1.5"/>
<text x="515.6" y="344.0" font-size="4.5" font-weight="bold" text-anchor="middle" stroke="#111" stroke-width="0.2">WALK-IN</text>
<text x="515.6" y="350.3" font-size="4.5" font-weight="bold" text-anchor="middle" stroke="#111" stroke-width="0.2">CLOSET</text>
<rect x="322.8" y="139.2" width="3.5" height="9.2" fill="#000"/>
<line x1="323.6" y1="148.4" x2="323.6" y2="202.6" stroke="#444" stroke-width="0.7" stroke-dasharray="9 1.5"/>
<line x1="325.8" y1="148.4" x2="325.8" y2="202.6" stroke="#444" stroke-width="0.7" stroke-dasharray="9 1.5"/>
<path d="M323.2 202.6 L326.9 202.6 L326.9 213.6 L333.3 219.8 L331.2 222.0 L323.2 214.6 Z" fill="#000" stroke="#111" stroke-width="0.3" />
<line x1="333.3" y1="219.8" x2="358.3" y2="244.6" stroke="#222" stroke-width="0.7" stroke-dasharray="7 1.5"/>
<line x1="331.2" y1="222.0" x2="356.1" y2="246.8" stroke="#222" stroke-width="0.7" stroke-dasharray="7 1.5"/>
<path d="M358.3 244.6 L362.8 249.1 L373.5 249.1 L373.5 251.8 L361.2 251.8 L356.1 246.8 Z" fill="#000" stroke="#111" stroke-width="0.3" />
<line x1="373.5" y1="249.8" x2="413.6" y2="249.8" stroke="#555" stroke-width="0.6" stroke-dasharray="6 1.6"/>
<line x1="373.5" y1="251.5" x2="413.6" y2="251.5" stroke="#555" stroke-width="0.6" stroke-dasharray="6 1.6"/>
<rect x="413.6" y="249.1" width="29.0" height="2.7" fill="#000"/>
<rect x="440.0" y="139.2" width="2.6" height="112.6" fill="#000"/>
<path d="M408.8 139.3 L411.9 139.3 L418.6 146.0 L416.9 147.4 Z" fill="#000" stroke="#111" stroke-width="0.3" />
<path d="M432.4 162.7 L434.2 161.2 L440.3 167.3 L440.3 170.6 Z" fill="#000" stroke="#111" stroke-width="0.3" />
<line x1="417.2" y1="147.6" x2="432.6" y2="163.0" stroke="#111" stroke-width="0.6"/>
<line x1="418.4" y1="146.2" x2="434.0" y2="161.6" stroke="#111" stroke-width="0.6"/>
<line x1="426.3" y1="139.4" x2="440.0" y2="153.0" stroke="#111" stroke-width="0.7"/>
<line x1="418.0" y1="146.6" x2="426.3" y2="139.4" stroke="#111" stroke-width="0.7"/>
<line x1="433.4" y1="161.8" x2="440.0" y2="153.2" stroke="#111" stroke-width="0.7"/>
<line x1="421.5" y1="149.0" x2="427.5" y2="155.0" stroke="#555" stroke-width="0.6"/>
<path d="M402.3 140.0 L402.6 146.2 L433.3 176.7 L440.0 176.7" fill="none" stroke="#111" stroke-width="0.7" />
<line x1="326.9" y1="140.4" x2="350.8" y2="163.6" stroke="#222" stroke-width="0.75" stroke-dasharray="7 2.4"/>
<line x1="350.8" y1="163.6" x2="400.6" y2="163.6" stroke="#222" stroke-width="0.75" stroke-dasharray="7 2.4"/>
<line x1="400.3" y1="163.6" x2="415.8" y2="179.5" stroke="#222" stroke-width="0.75" stroke-dasharray="7 2.4"/>
<line x1="415.8" y1="179.5" x2="440.0" y2="169.6" stroke="#222" stroke-width="0.75" stroke-dasharray="7 2.4"/>
<line x1="400.3" y1="163.6" x2="408.6" y2="140.0" stroke="#222" stroke-width="0.75" stroke-dasharray="7 2.4"/>
<line x1="415.8" y1="179.5" x2="415.8" y2="225.3" stroke="#222" stroke-width="0.75" stroke-dasharray="7 2.4"/>
<line x1="350.8" y1="163.6" x2="350.8" y2="203.2" stroke="#222" stroke-width="0.75" stroke-dasharray="7 2.4"/>
<line x1="350.8" y1="203.2" x2="326.9" y2="213.4" stroke="#222" stroke-width="0.75" stroke-dasharray="7 2.4"/>
<line x1="350.8" y1="203.2" x2="373.5" y2="225.3" stroke="#222" stroke-width="0.75" stroke-dasharray="7 2.4"/>
<line x1="373.5" y1="225.3" x2="384.8" y2="225.3" stroke="#222" stroke-width="0.75" stroke-dasharray="7 2.4"/>
<line x1="403.4" y1="225.3" x2="415.8" y2="225.3" stroke="#222" stroke-width="0.75" stroke-dasharray="7 2.4"/>
<line x1="373.5" y1="225.3" x2="363.8" y2="248.5" stroke="#222" stroke-width="0.75" stroke-dasharray="7 2.4"/>
<line x1="384.8" y1="225.3" x2="372.4" y2="249.2" stroke="#222" stroke-width="0.75" stroke-dasharray="7 2.4"/>
<line x1="403.4" y1="225.3" x2="416.8" y2="249.2" stroke="#222" stroke-width="0.75" stroke-dasharray="7 2.4"/>
<line x1="415.8" y1="225.3" x2="440.2" y2="249.2" stroke="#222" stroke-width="0.75" stroke-dasharray="7 2.4"/>
<line x1="384.8" y1="227.5" x2="384.8" y2="249.0" stroke="#222" stroke-width="0.75" stroke-dasharray="7 2.4"/>
<line x1="403.4" y1="227.5" x2="403.4" y2="249.0" stroke="#222" stroke-width="0.75" stroke-dasharray="7 2.4"/>
<text x="382.8" y="190.5" font-size="11.3" text-anchor="middle" stroke="#000" stroke-width="0.4">Great Room</text>
<text x="382.5" y="199.7" font-size="7.75" text-anchor="middle" stroke="#000" stroke-width="0.35">18'-8" x 18'-1"</text>
<text x="380.8" y="206.9" font-size="4.5" font-weight="bold" text-anchor="middle" stroke="#111" stroke-width="0.2" textLength="46.5" lengthAdjust="spacingAndGlyphs">12'-5" HIGH CEILING</text>
<text x="337.0" y="175.9" font-size="4.7" font-weight="bold" text-anchor="middle" stroke="#111" stroke-width="0.2" textLength="15.6" lengthAdjust="spacingAndGlyphs" transform="rotate(0 337.0 175.9)">SLOPE</text>
<line x1="329.0" y1="176.7" x2="351.4" y2="176.7" stroke="#111" stroke-width="0.6"/>
<line x1="351.4" y1="176.7" x2="347.4" y2="173.0" stroke="#111" stroke-width="0.6"/>
<line x1="351.4" y1="176.7" x2="347.4" y2="180.4" stroke="#111" stroke-width="0.6"/>
<text x="379.8" y="149.5" font-size="4.7" font-weight="bold" text-anchor="middle" stroke="#111" stroke-width="0.2" textLength="15.6" lengthAdjust="spacingAndGlyphs" transform="rotate(-90 379.8 149.5)">SLOPE</text>
<line x1="380.7" y1="140.8" x2="380.7" y2="163.0" stroke="#111" stroke-width="0.6"/>
<line x1="380.7" y1="163.0" x2="384.4" y2="159.0" stroke="#111" stroke-width="0.6"/>
<line x1="380.7" y1="163.0" x2="377.0" y2="159.0" stroke="#111" stroke-width="0.6"/>
<text x="413.6" y="158.8" font-size="4.7" font-weight="bold" text-anchor="middle" stroke="#111" stroke-width="0.2" textLength="15.6" lengthAdjust="spacingAndGlyphs" transform="rotate(-44 413.6 158.8)">SLOPE</text>
<line x1="421.6" y1="154.2" x2="405.8" y2="169.3" stroke="#111" stroke-width="0.6"/>
<line x1="405.8" y1="169.3" x2="411.2" y2="169.2" stroke="#111" stroke-width="0.6"/>
<line x1="405.8" y1="169.3" x2="406.1" y2="163.9" stroke="#111" stroke-width="0.6"/>
<text x="430.7" y="201.6" font-size="4.7" font-weight="bold" text-anchor="middle" stroke="#111" stroke-width="0.2" textLength="15.6" lengthAdjust="spacingAndGlyphs" transform="rotate(0 430.7 201.6)">SLOPE</text>
<line x1="439.6" y1="202.6" x2="416.6" y2="202.6" stroke="#111" stroke-width="0.6"/>
<line x1="416.6" y1="202.6" x2="420.6" y2="206.3" stroke="#111" stroke-width="0.6"/>
<line x1="416.6" y1="202.6" x2="420.6" y2="198.9" stroke="#111" stroke-width="0.6"/>
<text x="351.2" y="220.8" font-size="4.7" font-weight="bold" text-anchor="middle" stroke="#111" stroke-width="0.2" textLength="15.6" lengthAdjust="spacingAndGlyphs" transform="rotate(-43 351.2 220.8)">SLOPE</text>
<line x1="345.3" y1="229.2" x2="361.8" y2="213.9" stroke="#111" stroke-width="0.6"/>
<line x1="361.8" y1="213.9" x2="356.4" y2="213.9" stroke="#111" stroke-width="0.6"/>
<line x1="361.8" y1="213.9" x2="361.4" y2="219.3" stroke="#111" stroke-width="0.6"/>
<text x="381.6" y="266.0" font-size="4.7" font-weight="bold" text-anchor="middle" stroke="#111" stroke-width="0.2" textLength="15.6" lengthAdjust="spacingAndGlyphs" transform="rotate(-90 381.6 266.0)">SLOPE</text>
<line x1="382.5" y1="254.5" x2="382.5" y2="276.6" stroke="#111" stroke-width="0.6"/>
<line x1="382.5" y1="276.6" x2="386.2" y2="272.6" stroke="#111" stroke-width="0.6"/>
<line x1="382.5" y1="276.6" x2="378.8" y2="272.6" stroke="#111" stroke-width="0.6"/>
<text x="380.0" y="368.3" font-size="4.7" font-weight="bold" text-anchor="middle" stroke="#111" stroke-width="0.2" textLength="15.6" lengthAdjust="spacingAndGlyphs" transform="rotate(-90 380.0 368.3)">SLOPE</text>
<line x1="381.0" y1="379.0" x2="381.0" y2="357.2" stroke="#111" stroke-width="0.6"/>
<line x1="381.0" y1="357.2" x2="377.3" y2="361.2" stroke="#111" stroke-width="0.6"/>
<line x1="381.0" y1="357.2" x2="384.7" y2="361.2" stroke="#111" stroke-width="0.6"/>
<line x1="442.6" y1="140.1" x2="466.3" y2="163.3" stroke="#222" stroke-width="0.75" stroke-dasharray="7 2.4"/>
<line x1="539.5" y1="140.1" x2="515.9" y2="163.3" stroke="#222" stroke-width="0.75" stroke-dasharray="7 2.4"/>
<rect x="466.3" y="163.3" width="49.6" height="47.9" fill="none" stroke="#222" stroke-width="0.75" stroke-dasharray="7 2.4"/>
<line x1="466.3" y1="211.2" x2="442.9" y2="234.5" stroke="#222" stroke-width="0.75" stroke-dasharray="7 2.4"/>
<line x1="515.9" y1="211.2" x2="539.6" y2="235.3" stroke="#222" stroke-width="0.75" stroke-dasharray="7 2.4"/>
<rect x="448.5" y="169.5" width="86" height="13" fill="#fff"/>
<text x="491.4" y="179.7" font-size="11.3" text-anchor="middle" stroke="#000" stroke-width="0.4">Master Bedroom</text>
<text x="492.3" y="188.5" font-size="7.75" text-anchor="middle" stroke="#000" stroke-width="0.35">16'-1" x 15'-9"</text>
<text x="490.6" y="194.3" font-size="4.5" font-weight="bold" text-anchor="middle" stroke="#111" stroke-width="0.2" textLength="46" lengthAdjust="spacingAndGlyphs">12'-5" HIGH CEILING</text>
<text x="489.4" y="149.5" font-size="4.7" font-weight="bold" text-anchor="middle" stroke="#111" stroke-width="0.2" textLength="15.6" lengthAdjust="spacingAndGlyphs" transform="rotate(-90 489.4 149.5)">SLOPE</text>
<line x1="490.3" y1="140.8" x2="490.3" y2="163.0" stroke="#111" stroke-width="0.6"/>
<line x1="490.3" y1="163.0" x2="494.0" y2="159.0" stroke="#111" stroke-width="0.6"/>
<line x1="490.3" y1="163.0" x2="486.6" y2="159.0" stroke="#111" stroke-width="0.6"/>
<text x="452.0" y="196.9" font-size="4.7" font-weight="bold" text-anchor="middle" stroke="#111" stroke-width="0.2" textLength="15.6" lengthAdjust="spacingAndGlyphs" transform="rotate(0 452.0 196.9)">SLOPE</text>
<line x1="443.9" y1="197.7" x2="466.3" y2="197.7" stroke="#111" stroke-width="0.6"/>
<line x1="466.3" y1="197.7" x2="462.3" y2="194.0" stroke="#111" stroke-width="0.6"/>
<line x1="466.3" y1="197.7" x2="462.3" y2="201.4" stroke="#111" stroke-width="0.6"/>
<text x="529.7" y="202.2" font-size="4.7" font-weight="bold" text-anchor="middle" stroke="#111" stroke-width="0.2" textLength="15.6" lengthAdjust="spacingAndGlyphs" transform="rotate(0 529.7 202.2)">SLOPE</text>
<line x1="538.5" y1="203.0" x2="516.2" y2="203.0" stroke="#111" stroke-width="0.6"/>
<line x1="516.2" y1="203.0" x2="520.2" y2="206.7" stroke="#111" stroke-width="0.6"/>
<line x1="516.2" y1="203.0" x2="520.2" y2="199.3" stroke="#111" stroke-width="0.6"/>
<text x="485.8" y="225.7" font-size="4.7" font-weight="bold" text-anchor="middle" stroke="#111" stroke-width="0.2" textLength="15.6" lengthAdjust="spacingAndGlyphs" transform="rotate(-90 485.8 225.7)">SLOPE</text>
<line x1="486.9" y1="235.8" x2="486.9" y2="213.0" stroke="#111" stroke-width="0.6"/>
<line x1="486.9" y1="213.0" x2="483.2" y2="217.0" stroke="#111" stroke-width="0.6"/>
<line x1="486.9" y1="213.0" x2="490.6" y2="217.0" stroke="#111" stroke-width="0.6"/>
<path d="M442.9 236.4 L456.6 224.9" fill="none" stroke="#111" stroke-width="1.1" />
<path d="M456.6 224.9 Q461.8 229 462.8 236.4" fill="none" stroke="#111" stroke-width="0.7" />
<line x1="442.6" y1="234.6" x2="447.6" y2="230.4" stroke="#111" stroke-width="0.6"/>
<text x="449.5" y="228.6" font-size="2.6" font-weight="bold" text-anchor="middle" stroke="#111" stroke-width="0.2" transform="rotate(-40 449.5 228.6)">P</text>
<text x="100.4" y="183.0" font-size="11.3" text-anchor="middle" stroke="#000" stroke-width="0.4">Garage</text>
<text x="100.2" y="197.0" font-size="7.75" text-anchor="middle" stroke="#000" stroke-width="0.35">13'-4" x 23'-3"</text>
<text x="208.5" y="351.0" font-size="11.3" text-anchor="middle" stroke="#000" stroke-width="0.4">Garage</text>
<text x="208.1" y="364.3" font-size="7.75" text-anchor="middle" stroke="#000" stroke-width="0.35">21'-9" x 22'-9"</text>
<line x1="290.7" y1="433.9" x2="358.7" y2="433.9" stroke="#111" stroke-width="0.7"/>
<line x1="290.7" y1="437.4" x2="358.7" y2="437.4" stroke="#111" stroke-width="0.7"/>
<line x1="292.0" y1="431.6" x2="425.0" y2="431.6" stroke="#555" stroke-width="0.6" stroke-dasharray="3 1.6"/>
<line x1="425.6" y1="394.0" x2="425.6" y2="431.6" stroke="#555" stroke-width="0.6" stroke-dasharray="3 1.6"/>
<line x1="426.8" y1="393.0" x2="426.8" y2="432.5" stroke="#111" stroke-width="0.6"/>
<line x1="428.6" y1="393.0" x2="428.6" y2="432.5" stroke="#111" stroke-width="0.7"/>
<rect x="424.8" y="390.4" width="4.8" height="3.2" fill="#fff" stroke="#111" stroke-width="0.6"/>
<circle cx="289.9" cy="435.1" r="1.9" fill="#fff" stroke="#111" stroke-width="0.7"/>
<circle cx="360.8" cy="435.1" r="3.1" fill="#fff" stroke="#111" stroke-width="0.8"/>
<circle cx="426.8" cy="435.1" r="3.0" fill="#fff" stroke="#111" stroke-width="0.8"/>
<line x1="363.9" y1="435.1" x2="366.0" y2="435.1" stroke="#111" stroke-width="0.6"/>
<line x1="422.4" y1="435.1" x2="423.8" y2="435.1" stroke="#111" stroke-width="0.6"/>
<rect x="364.8" y="436.6" width="9.1" height="15.1" fill="#fff" stroke="#111" stroke-width="0.7"/>
<rect x="413.3" y="436.6" width="9.4" height="15.1" fill="#fff" stroke="#111" stroke-width="0.7"/>
<line x1="367.4" y1="436.6" x2="367.4" y2="451.7" stroke="#111" stroke-width="0.5"/>
<line x1="420.2" y1="436.6" x2="420.2" y2="451.7" stroke="#111" stroke-width="0.5"/>
<circle cx="373.9" cy="435.6" r="0.7" fill="#fff" stroke="#111" stroke-width="0.5"/>
<circle cx="413.3" cy="435.6" r="0.7" fill="#fff" stroke="#111" stroke-width="0.5"/>
<line x1="373.9" y1="436.6" x2="413.3" y2="436.6" stroke="#111" stroke-width="0.6"/>
<line x1="373.9" y1="439.7" x2="413.3" y2="439.7" stroke="#111" stroke-width="0.6"/>
<line x1="373.9" y1="444.2" x2="413.3" y2="444.2" stroke="#111" stroke-width="0.6"/>
<line x1="373.9" y1="449.0" x2="413.3" y2="449.0" stroke="#111" stroke-width="0.6"/>
<text x="395.6" y="448.4" font-size="4.2" text-anchor="start" stroke="#000" stroke-width="0.15" transform="rotate(-90 395.6 448.4)">UP</text>
<path d="M397.4 448 L397.4 438.6 M394.8 441.4 Q396.2 438.8 397.4 438.5 Q398.8 438.8 400.2 441.4" fill="none" stroke="#111" stroke-width="0.6" />
<text x="354.2" y="413.2" font-size="11.3" text-anchor="middle" stroke="#000" stroke-width="0.4">Porch</text>
</svg>
</body></html>
